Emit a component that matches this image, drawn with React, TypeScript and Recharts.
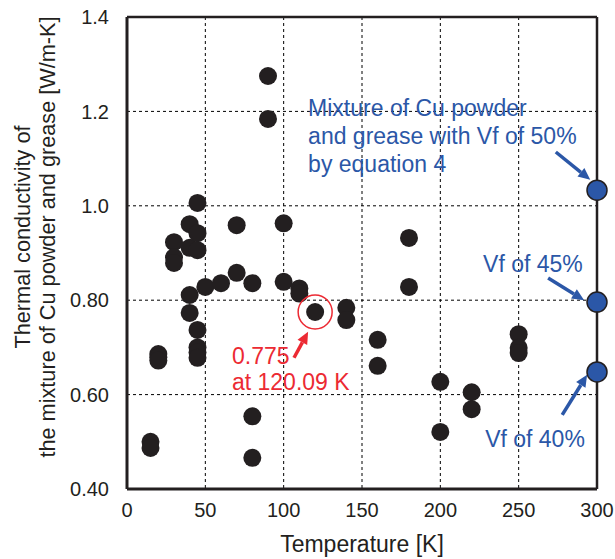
import React from 'react'
import {
  ScatterChart,
  Scatter,
  XAxis,
  YAxis,
  CartesianGrid,
  ReferenceLine,
  ReferenceDot,
} from 'recharts'

// measured points (temperature K, conductivity W/m-K)
const temps = [
  15, 15, 20, 20, 20, 30, 30, 30, 40, 40, 40, 40, 45, 45, 45, 45, 45, 45, 45,
  50, 60, 70, 70, 80, 80, 80, 90, 90, 100, 100, 110, 110, 120.09, 140, 140,
  160, 160, 180, 180, 200, 200, 220, 220, 250, 250, 250,
]
const conductivity = [
  0.5, 0.487, 0.686, 0.679, 0.672, 0.923, 0.891, 0.879, 0.961, 0.911, 0.811,
  0.773, 1.006, 0.942, 0.906, 0.737, 0.7, 0.689, 0.678, 0.828, 0.836, 0.959,
  0.858, 0.836, 0.554, 0.466, 1.275, 1.184, 0.963, 0.839, 0.825, 0.814, 0.775,
  0.784, 0.758, 0.716, 0.661, 0.932, 0.828, 0.627, 0.521, 0.605, 0.569, 0.728,
  0.699, 0.688,
]

// equation 4 estimates at 300 K
const modelTemps = [300, 300, 300]
const modelValues = [1.033, 0.796, 0.648]

const xTicks = [0, 50, 100, 150, 200, 250, 300]
const yTicks = [0.4, 0.6, 0.8, 1.0, 1.2, 1.4]
const yTickLabels = ['0.40', '0.60', '0.80', '1.0', '1.2', '1.4']

const measured = temps.map((t, i) => ({ t, k: conductivity[i] }))
const model = modelTemps.map((t, i) => ({ t, k: modelValues[i] }))

const FONT = '"Liberation Sans", Arial, sans-serif'
const INK = '#231f20'
const BLUE = '#2b57a7'
const RED = '#ec2a33'

function Arrow(props: any) {
  const { x1, y1, x2, y2, stroke } = props
  const dx = x2 - x1
  const dy = y2 - y1
  const len = Math.sqrt(dx * dx + dy * dy)
  const ux = dx / len
  const uy = dy / len
  const head = 12
  const w = 5.5
  const bx = x2 - ux * head
  const by = y2 - uy * head
  const pts = `${x2},${y2} ${bx - uy * w},${by + ux * w} ${bx + uy * w},${by - ux * w}`
  return (
    <g>
      <line x1={x1} y1={y1} x2={bx} y2={by} stroke={stroke} strokeWidth={3.5} />
      <polygon points={pts} fill={stroke} />
    </g>
  )
}

function note(lines: string[], color: string, gap = 28) {
  return (p: any) => (
    <text x={p.cx} y={p.cy} fill={color} fontSize={23} fontFamily={FONT}>
      {lines.map((l, i) => (
        <tspan key={i} x={p.cx} dy={i === 0 ? 0 : gap}>
          {l}
        </tspan>
      ))}
    </text>
  )
}

export default function App() {
  return (
    <div style={{ position: 'absolute', left: 0, top: 0, width: 615, height: 559, background: '#fff' }}>
      <ScatterChart width={615} height={559} margin={{ top: 17, right: 18, bottom: 0, left: 0 }}>
        <CartesianGrid stroke="#000" strokeDasharray="3 3" strokeWidth={1} />
        <XAxis
          type="number"
          dataKey="t"
          domain={[0, 300]}
          ticks={xTicks}
          height={70}
          tickLine={false}
          tickMargin={8}
          axisLine={{ stroke: INK, strokeWidth: 3 }}
          tick={{ fill: INK, fontSize: 20, fontFamily: FONT }}
          label={{
            value: 'Temperature [K]',
            position: 'insideBottom',
            offset: 7,
            fill: INK,
            fontSize: 23,
            fontFamily: FONT,
          }}
        />
        <YAxis
          type="number"
          dataKey="k"
          domain={[0.4, 1.4]}
          ticks={yTicks}
          width={127}
          tickLine={false}
          tickMargin={12}
          tickFormatter={(v: number) => yTickLabels[yTicks.findIndex((y) => Math.abs(y - v) < 1e-6)] ?? String(v)}
          axisLine={{ stroke: INK, strokeWidth: 3 }}
          tick={{ fill: INK, fontSize: 20, fontFamily: FONT }}
          label={{
            content: () => (
              <text fill={INK} fontSize={21.7} fontFamily={FONT} textAnchor="middle" transform="translate(0,237) rotate(-90)">
                <tspan x={0} y={30}>Thermal conductivity of</tspan>
                <tspan x={0} y={55}>the mixture of Cu powder and grease [W/m-K]</tspan>
              </text>
            ),
          }}
        />
        <ReferenceLine y={1.4} stroke={INK} strokeWidth={2.5} />
        <ReferenceLine x={300} stroke={INK} strokeWidth={2.5} />

        <Scatter data={measured} fill={INK} isAnimationActive={false} shape={(p: any) => <circle cx={p.cx} cy={p.cy} r={9} fill={INK} />} />
        <Scatter
          data={model}
          fill={BLUE}
          isAnimationActive={false}
          shape={(p: any) => <circle cx={p.cx} cy={p.cy} r={10} fill={BLUE} stroke={INK} strokeWidth={1.5} />}
        />

        <ReferenceDot x={120.09} y={0.775} r={17} fill="none" stroke={RED} strokeWidth={1.5} />

        <ReferenceLine segment={[{ x: 273.7, y: 1.114 }, { x: 295.7, y: 1.055 }]} stroke={BLUE} shape={Arrow} />
        <ReferenceLine segment={[{ x: 268.8, y: 0.847 }, { x: 291.8, y: 0.8 }]} stroke={BLUE} shape={Arrow} />
        <ReferenceLine segment={[{ x: 277.8, y: 0.557 }, { x: 293.7, y: 0.642 }]} stroke={BLUE} shape={Arrow} />
        <ReferenceLine segment={[{ x: 106.6, y: 0.678 }, { x: 115.6, y: 0.733 }]} stroke={RED} shape={Arrow} />

        <ReferenceDot x={115.6} y={1.19} r={0} shape={note(['Mixture of Cu powder', 'and grease with Vf of 50%', 'by equation 4'], BLUE)} />
        <ReferenceDot x={227.3} y={0.86} r={0} shape={note(['Vf of 45%'], BLUE)} />
        <ReferenceDot x={228.6} y={0.489} r={0} shape={note(['Vf of 40%'], BLUE)} />
        <ReferenceDot x={67} y={0.665} r={0} shape={note(['0.775', 'at 120.09 K'], RED, 26)} />
      </ScatterChart>
    </div>
  )
}
